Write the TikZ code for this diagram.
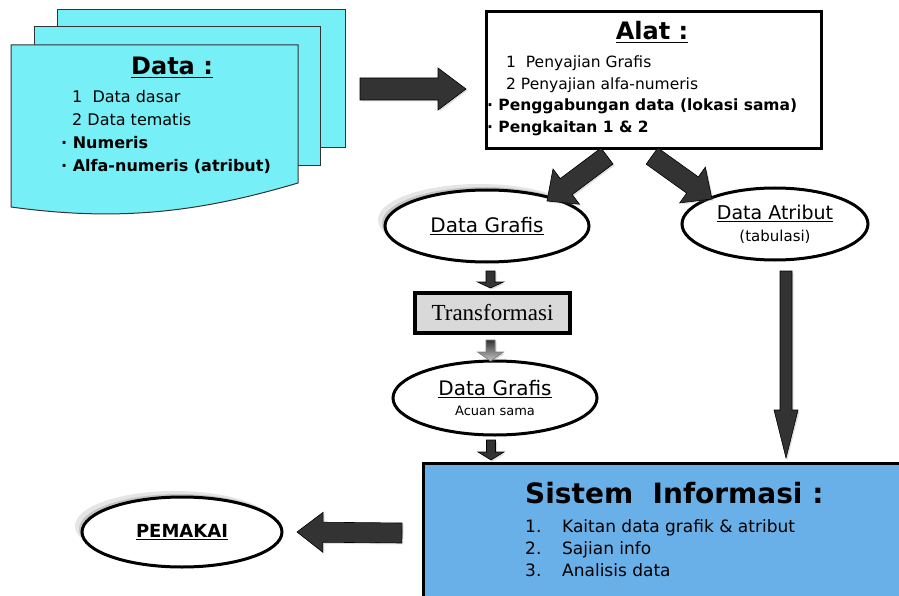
\documentclass[tikz,border=0pt]{standalone}
\usepackage{fontspec}
\setmainfont{DejaVu Sans}
\newfontfamily\timesfont{Liberation Serif}
\usetikzlibrary{calc,shapes.geometric,shadows}
\definecolor{cyanlembar}{RGB}{118,239,247}
\definecolor{sisbiru}{RGB}{106,176,232}
\definecolor{panahabu}{RGB}{51,51,51}
\tikzset{
  lembar/.style = {fill=cyanlembar, draw=black!80, line width=1pt},
  kotak/.style = {draw=black, line width=3pt, inner sep=0pt},
  judul/.style = {font=\fontsize{24}{28}\selectfont\bfseries, anchor=base},
  isi/.style = {align=left, anchor=north west, inner sep=0pt},
  elips/.style = {ellipse, draw=black, line width=3pt, fill=white, inner sep=0pt, align=center},
  cahaya/.style = {drop shadow={shadow xshift=-7pt,shadow yshift=6pt,fill=gray!50,opacity=.4},
    drop shadow={shadow xshift=-3pt,shadow yshift=3pt,fill=gray!70,opacity=.5}},% bayangan kabur
  blokpanah/.style = {fill=panahabu, draw=black, line width=.6pt, line join=miter,
    drop shadow={shadow xshift=1.5pt,shadow yshift=-1.5pt,opacity=.25}},
}
% panah blok: [gaya]{dari}{ke}{setengah lebar batang}{setengah lebar kepala}{panjang kepala}
\newcommand{\blokpanah}[6][]{%
  \coordinate (bp-b) at ($(#3)!#6!(#2)$);
  \draw[blokpanah,#1] ($(#2)!#4!90:(#3)$) -- ($(bp-b)!#4!90:(#3)$) -- ($(bp-b)!#5!90:(#3)$)
    -- (#3) -- ($(bp-b)!#5!-90:(#3)$) -- ($(bp-b)!#4!-90:(#3)$) -- ($(#2)!#4!-90:(#3)$) -- cycle;}

\begin{document}
\begin{tikzpicture}[x=1pt,y=-1pt]
  \useasboundingbox (0,0) rectangle (899,596);

  % lembar data
  \draw[lembar] (57,10) rectangle (345,148);
  \draw[lembar] (34,27) rectangle (320,166);
  \draw[lembar] (11,45) -- (298,45) -- (298,183) .. controls (200,212) and (120,222) .. (11,207) -- cycle;
  \node[judul] (datajudul) at (172,75) {\underline{Data :}};
  \node[isi, font=\fontsize{16}{23}\selectfont] (dataisi) at (61,90)
    {\hspace*{11pt}1\ \ Data dasar\\\hspace*{11pt}2 Data tematis\\\textbf{·\ Numeris}\\\textbf{·\ Alfa-numeris (atribut)}};

  % alat
  \node[kotak, minimum width=335pt, minimum height=137pt, anchor=north west] (alat) at (485,10) {};
  \node[judul] (alatjudul) at (652,40) {\underline{Alat :}};
  \node[isi, font=\fontsize{15.5}{21.5}\selectfont] (alatisi) at (487,56)
    {\hspace*{19pt}1\ \ Penyajian Grafis\\\hspace*{19pt}2 Penyajian alfa-numeris\\
     \textbf{·\ Penggabungan data (lokasi sama)}\\\textbf{·\ Pengkaitan 1 \& 2}};

  % elips dan kotak
  \node[elips, cahaya, minimum width=204pt, minimum height=72pt] (grafis) at (487,226)
    {\fontsize{20}{22}\selectfont\underline{Data Grafis}};
  \node[elips, minimum width=186pt, minimum height=72pt] (atribut) at (775,224)
    {\fontsize{19}{22}\selectfont\underline{Data Atribut}\\[7pt]\fontsize{15}{20}\selectfont(tabulasi)};
  \node[kotak, line width=3.5pt, fill=black!15, minimum width=155pt, minimum height=40pt,
    font=\timesfont\fontsize{23}{26}\selectfont,
    drop shadow={shadow xshift=2pt,shadow yshift=-2pt,opacity=.3}] (transformasi) at (492.5,313) {Transformasi};
  \node[elips, minimum width=204pt, minimum height=74pt] (grafis2) at (495,398)
    {\fontsize{20}{22}\selectfont\underline{Data Grafis}\\[8pt]\fontsize{13}{16}\selectfont Acuan sama};
  \node[elips, cahaya, minimum width=200pt, minimum height=70pt] (pemakai) at (182,532)
    {\fontsize{18}{22}\selectfont\bfseries\underline{PEMAKAI}};

  % sistem informasi
  \node[kotak, fill=sisbiru, minimum width=500pt, minimum height=150pt, anchor=north west] (sistem) at (422,462) {};
  \node[font=\fontsize{28}{32}\selectfont\bfseries, anchor=base west, inner sep=0pt] (sistemjudul) at (525,503)
    {Sistem\ \ Informasi :};
  \node[isi, font=\fontsize{17}{22}\selectfont] (sistemisi) at (525,519)
    {\makebox[37pt][l]{1.}Kaitan data grafik \& atribut\\\makebox[37pt][l]{2.}Sajian info\\\makebox[37pt][l]{3.}Analisis data};

  % ujung panah
  \coordinate (d1) at (360,89);   \coordinate (d2) at (466,89);
  \coordinate (ak1) at (607,156); \coordinate (ak2) at (547,201);
  \coordinate (an1) at (652,156); \coordinate (an2) at (712,199);
  \coordinate (g1) at (490.5,271); \coordinate (g2) at (490.5,288);
  \coordinate (t1) at (490.5,340); \coordinate (t2) at (490.5,361);
  \coordinate (h1) at (491,440);   \coordinate (h2) at (491,460);
  \coordinate (r1) at (786,271);   \coordinate (r2) at (786,458);
  \coordinate (s1) at (402,533);   \coordinate (s2) at (297,532);

  \blokpanah{d1}{d2}{11pt}{21pt}{28pt}
  \blokpanah{ak1}{ak2}{10pt}{22pt}{24pt}
  \blokpanah{an1}{an2}{10pt}{22pt}{24pt}
  \blokpanah{g1}{g2}{4.5pt}{13pt}{6pt}
  \blokpanah[top color=panahabu, bottom color=gray!45, draw=gray]{t1}{t2}{4.5pt}{13pt}{9pt}
  \blokpanah{h1}{h2}{4.5pt}{13pt}{8pt}
  \blokpanah{r1}{r2}{6pt}{12pt}{48pt}
  \blokpanah{s1}{s2}{10pt}{20pt}{26pt}
\end{tikzpicture}
\end{document}
